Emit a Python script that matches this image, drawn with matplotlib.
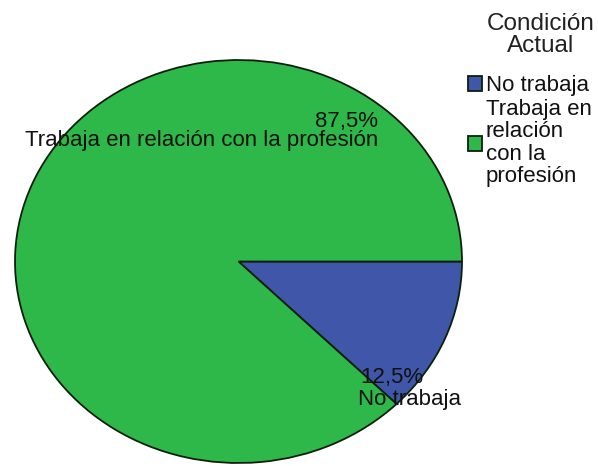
import matplotlib
matplotlib.use("Agg")
import matplotlib.pyplot as plt

# data
categories = ["No trabaja", "Trabaja en relación con la profesión"]
legend_labels = ["No trabaja", "Trabaja en\nrelación\ncon la\nprofesión"]
legend_title = "Condición\nActual"
percent = [12.5, 87.5]
pct_text = ["12,5%", "87,5%"]
colors = ["#4056a8", "#2eb84a"]

plt.rcParams["font.family"] = ["Liberation Sans", "DejaVu Sans"]
FS = 16

W, H = 598, 466
fig = plt.figure(figsize=(W / 100, H / 100), dpi=100)

# pie is drawn stretched (ellipse) like the SPSS export
ax = fig.add_axes([15 / W, (H - 463) / H, 447 / W, 403 / H])
wedges, _ = ax.pie(percent, colors=colors, startangle=0, counterclock=False,
                   wedgeprops=dict(edgecolor="#0d1f0d", linewidth=1.3))
ax.set_aspect("auto")
ax.set_xlim(-1, 1)
ax.set_ylim(-1, 1)


def px(x, y):
    return x / W, 1 - y / H


# slice labels (SPSS puts them at odd spots)
fig.text(*px(378, 121), pct_text[1], ha="right", va="center", fontsize=FS, color="#111")
fig.text(*px(378, 140), categories[1], ha="right", va="center", fontsize=FS, color="#111")
fig.text(*px(360, 378), pct_text[0], ha="left", va="center", fontsize=FS, color="#111")
fig.text(*px(358, 400), categories[0], ha="left", va="center", fontsize=FS, color="#111")

# legend title on its own, centred above the entries
fig.text(*px(541, 35), legend_title, ha="center", va="center", fontsize=17.5,
         color="#222", linespacing=1.05, multialignment="center")

leg = fig.legend(wedges, legend_labels, loc="upper left",
                 bbox_to_anchor=px(468, 75), frameon=False,
                 fontsize=FS, handlelength=0.65, handleheight=0.65,
                 handletextpad=0.15, labelspacing=0.15,
                 borderpad=0, borderaxespad=0)
for t in leg.get_texts():
    t.set_linespacing(1.07)
    t.set_color("#111")

fig.savefig("out.png", dpi=100)
